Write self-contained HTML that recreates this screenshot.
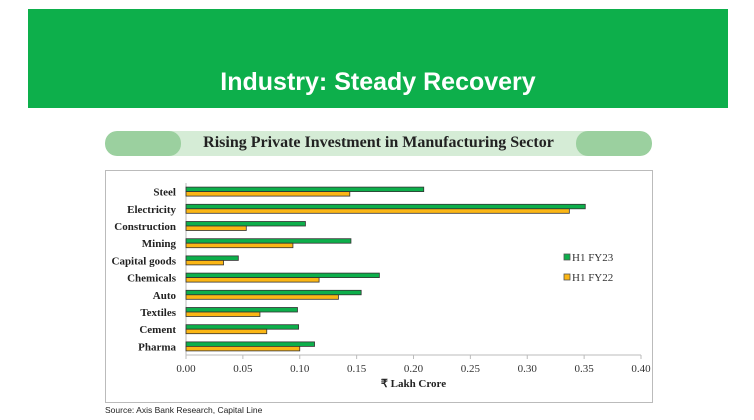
<!DOCTYPE html>
<html><head><meta charset="utf-8"><style>
body{margin:0;width:754px;height:420px;background:#fff;overflow:hidden;position:relative;font-family:"Liberation Serif",serif}
#banner{position:absolute;left:28px;top:9px;width:700px;height:99px;background:#0daf4b}
#banner h1{position:absolute;left:0;right:0;top:58px;margin:0;text-align:center;color:#fff;font-family:"Liberation Sans",sans-serif;font-weight:bold;font-size:25px;line-height:30px}
#pill{position:absolute;left:105px;top:131px;width:547px;height:25px;background:#d5ecd6;border-radius:12px;overflow:hidden}
.cap{position:absolute;top:0;width:76px;height:25px;background:#9bd09f;border-radius:12px}
#pill span{position:absolute;left:0;right:0;top:3px;text-align:center;font-weight:bold;font-size:16px;color:#222}
#src{position:absolute;left:105px;top:405px;font-family:"Liberation Sans",sans-serif;font-size:8.5px;color:#222}
</style></head><body>
<div id="banner"><h1>Industry: Steady Recovery</h1></div>
<div id="pill"><div class="cap" style="left:0"></div><div class="cap" style="right:0"></div><span>Rising Private Investment in Manufacturing Sector</span></div>
<svg id="chart" width="754" height="420" style="position:absolute;left:0;top:0"></svg>
<div id="src">Source: Axis Bank Research, Capital Line</div>
<script>
const categories=["Steel","Electricity","Construction","Mining","Capital goods","Chemicals","Auto","Textiles","Cement","Pharma"];
const fy23=[0.209,0.351,0.105,0.145,0.046,0.170,0.154,0.098,0.099,0.113];
const fy22=[0.144,0.337,0.053,0.094,0.033,0.117,0.134,0.065,0.071,0.100];
const ticks=["0.00","0.05","0.10","0.15","0.20","0.25","0.30","0.35","0.40"];
const seriesNames=["H1 FY23","H1 FY22"];
const svg=document.getElementById('chart');const NS='http://www.w3.org/2000/svg';
function mk(t,a,p){const e=document.createElementNS(NS,t);for(const k in a)e.setAttribute(k,a[k]);(p||svg).appendChild(e);return e;}
const x0=186,x1=641,yTop=183,base=355,band=(base-yTop)/categories.length;
const xs=v=>x0+v/0.40*(x1-x0);
const frame=mk('rect',{x:105.5,y:170.5,width:547,height:232,fill:'none',stroke:'#bbb'});


const ax=mk('path',{d:`M${x0} ${yTop}V${base}H${x1}`,fill:'none',stroke:'#bbb'});


ticks.forEach((t,i)=>{const x=xs(parseFloat(t));
mk('line',{x1:x,x2:x,y1:base,y2:base+4,stroke:'#bbb'});
const tx=mk('text',{x:x,y:base+17,'text-anchor':'middle','font-size':11,fill:'#333'});tx.textContent=t;

});
const xt=mk('text',{x:xs(0.2),y:387,'text-anchor':'middle','font-size':11,'font-weight':'bold',fill:'#222'});xt.textContent='₹ Lakh Crore';


categories.forEach((c,i)=>{const cy=yTop+band*(i+0.5);
const l=mk('text',{x:176,y:cy+4,'text-anchor':'end','font-size':11,'font-weight':'bold',fill:'#222'});l.textContent=c;


const g=mk('rect',{x:x0,y:cy-4.5,width:xs(fy23[i])-x0,height:4.5,fill:'#0daf4b',stroke:'#333','stroke-width':0.8});


const o=mk('rect',{x:x0,y:cy,width:xs(fy22[i])-x0,height:4.5,fill:'#fbb615',stroke:'#333','stroke-width':0.8});

});
[['#0daf4b',259],['#fbb615',279]].forEach((s,i)=>{
const r=mk('rect',{x:564,y:s[1]-5,width:6,height:6,fill:s[0],stroke:'#555','stroke-width':0.8});


const t=mk('text',{x:572,y:s[1]+2,'font-size':11,fill:'#333'});t.textContent=seriesNames[i];

});
</script>
</body></html>
